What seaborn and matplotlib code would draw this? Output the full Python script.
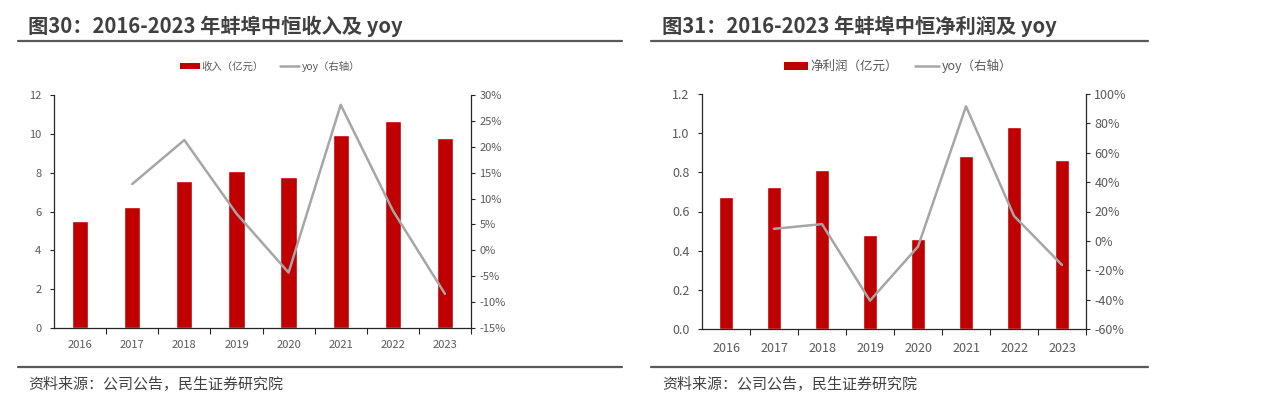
import numpy as np
import pandas as pd
import matplotlib
matplotlib.use("Agg")
import matplotlib.pyplot as plt
from matplotlib.lines import Line2D
from matplotlib.patches import Patch
from matplotlib.ticker import FuncFormatter, FixedLocator
import seaborn as sns

# ---------------- data ----------------
years = ["2016", "2017", "2018", "2019", "2020", "2021", "2022", "2023"]
revenue = [5.49, 6.24, 7.58, 8.10, 7.76, 9.94, 10.68, 9.80]          # 亿元
revenue_yoy = [12.8, 21.3, 7.1, -4.3, 28.1, 7.7, -8.4]               # % (2017-2023)
profit = [0.673, 0.724, 0.811, 0.479, 0.460, 0.881, 1.030, 0.864]    # 亿元
profit_yoy = [8.2, 11.4, -40.7, -3.9, 91.6, 17.0, -16.4]             # % (2017-2023)

titles = ["图30：2016-2023 年蚌埠中恒收入及 yoy", "图31：2016-2023 年蚌埠中恒净利润及 yoy"]
bar_labels = ["收入（亿元）", "净利润（亿元）"]
line_label = "yoy（右轴）"
source = "资料来源：公司公告，民生证券研究院"

left_ticks = [[0, 2, 4, 6, 8, 10, 12], [0.0, 0.2, 0.4, 0.6, 0.8, 1.0, 1.2]]
right_ticks = [[-15, -10, -5, 0, 5, 10, 15, 20, 25, 30],
               [-60, -40, -20, 0, 20, 40, 60, 80, 100]]

# ---------------- style ----------------
sns.set_theme(style="white")
plt.rcParams["font.family"] = ["Noto Sans CJK SC", "DejaVu Sans"]
plt.rcParams["axes.unicode_minus"] = False

RED = "#C00000"
GREY_LINE = "#A6A6A6"
AXIS = "#262626"
TXT = "#595959"
TITLE = "#404040"

W, H = 1269, 399
fig = plt.figure(figsize=(W / 100, H / 100), dpi=100)
fig.patch.set_facecolor("white")


def px_axes(l, t, r, b):
    return fig.add_axes([l / W, 1 - b / H, (r - l) / W, (b - t) / H])


panels = [
    dict(box=(54, 95, 471, 328), vals=revenue, yoy=revenue_yoy, fmt="{:.0f}",
         tsize=8, lsize=7.5, title_x=28, rule=(18, 622), leg_x=270,
         hl=1.9, cs=1.5),
    dict(box=(702, 94, 1086, 329), vals=profit, yoy=profit_yoy, fmt="{:.1f}",
         tsize=9, lsize=9, title_x=662, rule=(651, 1148), leg_x=898,
         hl=1.9, cs=1.4),
]

for i, p in enumerate(panels):
    ax = px_axes(*p["box"])
    df = pd.DataFrame({"year": years, "value": p["vals"]})
    sns.barplot(data=df, x="year", y="value", color=RED, width=0.31,
                saturation=1, ax=ax, order=years)
    ax.set_xlim(-0.5, len(years) - 0.5)
    lt = left_ticks[i]
    ax.set_ylim(lt[0], lt[-1])
    ax.yaxis.set_major_locator(FixedLocator(lt))
    ax.yaxis.set_major_formatter(FuncFormatter(lambda v, _, f=p["fmt"]: f.format(v)))
    ax.set_xlabel("")
    ax.set_ylabel("")

    ax2 = ax.twinx()
    pos = np.arange(len(years))
    sns.lineplot(x=pos[1:], y=p["yoy"], color=GREY_LINE, linewidth=1.8, ax=ax2)
    rt = right_ticks[i]
    ax2.set_ylim(rt[0], rt[-1])
    ax2.yaxis.set_major_locator(FixedLocator(rt))
    ax2.yaxis.set_major_formatter(FuncFormatter(lambda v, _: f"{v:.0f}%"))
    ax2.set_ylabel("")
    ax2.set_xlim(-0.5, len(years) - 0.5)

    for a in (ax, ax2):
        a.set_facecolor("none")
        a.spines["top"].set_visible(False)
        for s in ("left", "right", "bottom"):
            a.spines[s].set_color(AXIS)
            a.spines[s].set_linewidth(0.9)
    ax.spines["right"].set_visible(False)
    ax2.spines["left"].set_visible(False)
    ax2.spines["bottom"].set_visible(False)

    ax.tick_params(axis="y", direction="out", length=3, width=0.8, color=AXIS,
                   labelsize=p["tsize"], labelcolor=TXT, pad=6, left=True)
    ax2.tick_params(axis="y", direction="out", length=3, width=0.8, color=AXIS,
                    labelsize=p["tsize"], labelcolor=TXT, pad=3, right=True)
    ax.tick_params(axis="x", length=0, labelsize=p["tsize"], labelcolor=TXT, pad=9)
    ax.set_xticks(np.arange(len(years)) + 0.5, minor=True)
    ax.tick_params(axis="x", which="minor", direction="out", length=4, width=0.8,
                   color=AXIS, bottom=True)

    # title, rules, source
    fig.text(p["title_x"] / W, 1 - 26 / H, titles[i], fontsize=14.6, fontweight="bold",
             color=TITLE, va="center", ha="left")
    x0, x1 = p["rule"]
    fig.add_artist(Line2D([x0 / W, x1 / W], [1 - 41 / H] * 2, color="#595959",
                          linewidth=1.6, transform=fig.transFigure))
    fig.add_artist(Line2D([x0 / W, x1 / W], [1 - 367 / H] * 2, color="#595959",
                          linewidth=1.6, transform=fig.transFigure))
    fig.text(p["title_x"] / W, 1 - 385 / H, source, fontsize=10.8, color=TITLE,
             va="center", ha="left")

    handles = [Patch(facecolor=RED, edgecolor="none"),
               Line2D([0], [0], color=GREY_LINE, linewidth=1.8)]
    fig.legend(handles, [bar_labels[i], line_label], loc="center",
               bbox_to_anchor=(p["leg_x"] / W, 1 - 66 / H), ncol=2, frameon=False,
               fontsize=p["lsize"], labelcolor=TXT, handlelength=p["hl"],
               handleheight=0.6, handletextpad=0.2, columnspacing=p["cs"],
               borderpad=0, borderaxespad=0)

fig.savefig("out.png", dpi=100, facecolor="white")
